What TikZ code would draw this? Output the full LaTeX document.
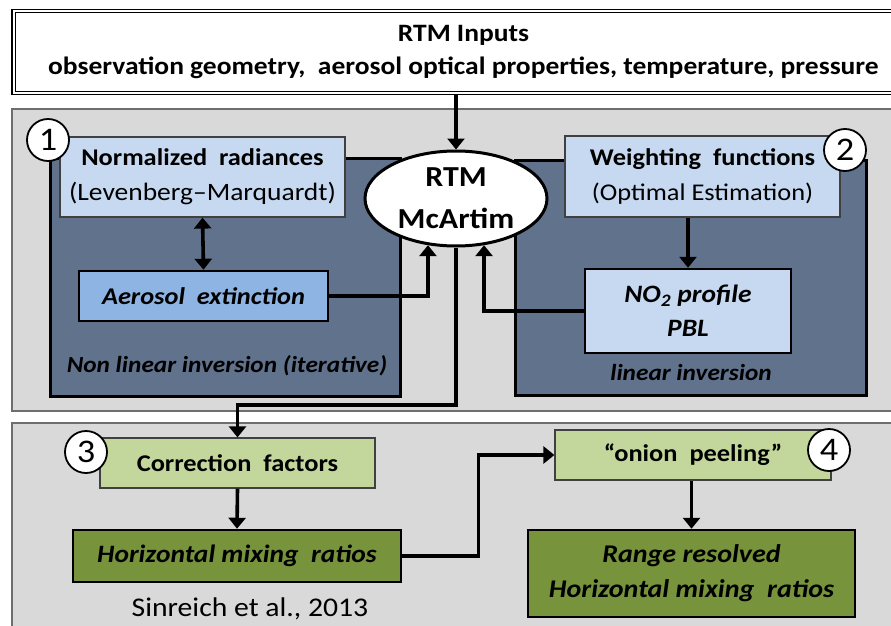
\documentclass[tikz,border=0pt]{standalone}
\usepackage{fontspec}
\setmainfont{Carlito}[FakeStretch=1.1]
\usetikzlibrary{arrows.meta,shapes.geometric,calc}
\definecolor{panelgray}{RGB}{217,217,217}
\definecolor{paneledge}{RGB}{110,110,110}
\definecolor{slate}{RGB}{96,114,140}
\definecolor{lblue}{RGB}{198,217,241}
\definecolor{mblue}{RGB}{141,180,226}
\definecolor{lgreen}{RGB}{195,214,155}
\definecolor{olive}{RGB}{119,147,60}
\definecolor{softedge}{RGB}{64,64,64}
\newcommand\fsz[2]{\fontsize{#1}{#2}\selectfont}
\begin{document}
\begin{tikzpicture}[x=1pt,y=-1pt,
  base/.style={rectangle, inner sep=0pt, align=center},
  panel/.style={base, fill=panelgray, draw=paneledge, line width=1.5pt},
  darkbox/.style={base, fill=slate, draw=black, line width=3pt},
  softbox/.style={base, draw=softedge, line width=1.2pt, font=\fsz{24}{35}\bfseries},
  hardbox/.style={base, draw=black, line width=2.5pt, font=\fsz{24}{34}\bfseries\itshape},
  numcirc/.style={circle, fill=white, draw=black, line width=1.8pt, minimum size=42pt, inner sep=0pt, font=\fsz{33}{33}},
  arr/.style={line width=3.6pt, -{Triangle[length=11pt,width=17pt]}},
  darr/.style={line width=3.6pt, {Triangle[length=11pt,width=17pt]}-{Triangle[length=11pt,width=17pt]}},
  note/.style={inner sep=0pt, font=\fsz{23}{24}\bfseries\itshape}
]
\useasboundingbox (0,0) rectangle (891,626);
\fill[white] (0,0) rectangle (891,626);

% top inputs box
\node[base, draw=black, line width=1.2pt, double=white, double distance=2pt,
      minimum width=900, minimum height=82, font=\fsz{25}{33}\bfseries] (inp) at (463.5,52)
      {RTM Inputs\\observation geometry,\ \ aerosol optical properties, temperature, pressure};

% panels
\node[panel, minimum width=900, minimum height=302] (p1) at (462,260) {};
\node[panel, minimum width=900, minimum height=230] (p2) at (462,538) {};

% dark boxes
\node[darkbox, minimum width=350, minimum height=238] (d1) at (225,277) {};
\node[darkbox, minimum width=351, minimum height=235] (d2) at (690.5,277.5) {};
\node[note] (l1) at (227,366) {Non linear inversion (iterative)};
\node[note] (l2) at (691,373) {linear inversion};

% boxes panel 1
\node[softbox, fill=lblue, minimum width=285, minimum height=80] (nr) at (202.5,177)
  {Normalized\ \ radiances\\{\mdseries\fsz{25}{35}(Levenberg–Marquardt)}};
\node[softbox, fill=lblue, minimum width=275, minimum height=81] (wf) at (702.5,176.5)
  {Weighting\ \ functions\\{\mdseries(Optimal Estimation)}};
\node[hardbox, fill=mblue, minimum width=249, minimum height=50] (aer) at (203.5,296)
  {Aerosol\ \ extinction};
\node[hardbox, fill=lblue, minimum width=206, minimum height=84, font=\fsz{25}{34}\bfseries\itshape] (no2) at (688,311)
  {NO\textsubscript{2} profile\\PBL};
\node[ellipse, fill=white, draw=black, line width=3pt, minimum width=182, minimum height=95,
      inner sep=0pt, align=center, font=\fsz{29}{42}\bfseries] (rtm) at (456,198.5) {RTM\\McArtim};

% boxes panel 2
\node[softbox, fill=lgreen, minimum width=275, minimum height=50] (cf) at (237.5,463) {Correction\ \ factors};
\node[hardbox, fill=olive, minimum width=328, minimum height=52, font=\fsz{25}{34}\bfseries\itshape] (hmr) at (237,556) {Horizontal mixing\ \ ratios};
\node[softbox, fill=lgreen, minimum width=276, minimum height=50] (op) at (693,455) {“onion\ \ peeling”};
\node[hardbox, fill=olive, minimum width=327, minimum height=87, font=\fsz{25.5}{35}\bfseries\itshape] (rr) at (691.5,573.5)
  {Range resolved\\Horizontal mixing\ \ ratios};
\node[inner sep=0pt, font=\fsz{27}{27}] (ref) at (250,609) {Sinreich et al., 2013};

% number circles
\node[numcirc] (c1) at (48,140) {1};
\node[numcirc] (c2) at (845,150) {2};
\node[numcirc] (c3) at (86,452) {3};
\node[numcirc] (c4) at (829,450) {4};

% connectors
\coordinate (k1) at (237.5,405);
\draw[arr] (rtm.north |- inp.south) -- (rtm.north);
\draw[darr] (nr.south) -- (aer.north);
\draw[arr] (aer.east) -| (rtm.239);
\draw[arr] (no2.north |- wf.south) -- (no2.north);
\draw[arr] (no2.west) -| (rtm.301);
\draw[arr] (rtm.south) |- (k1) -- (cf.north);
\draw[arr] (cf.south) -- (hmr.north);
\draw[arr] (hmr.east) -| ($(hmr.east)!.5!(op.west)$) |- (op.west);
\draw[arr] (op.south -| rr.north) -- (rr.north);
\end{tikzpicture}
\end{document}
